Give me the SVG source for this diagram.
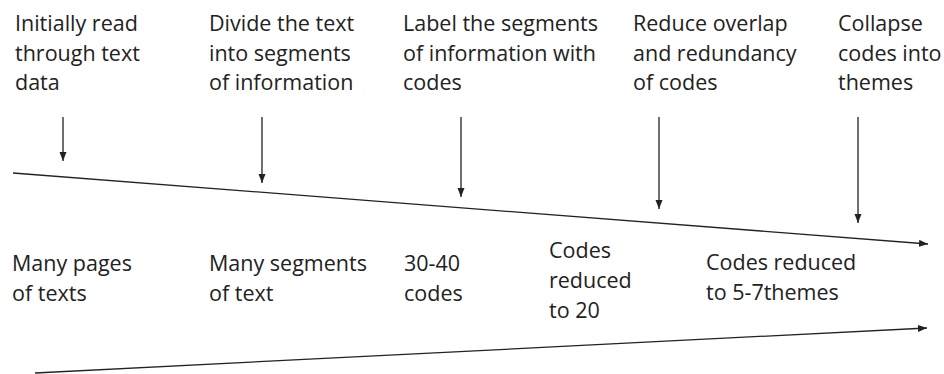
<svg xmlns="http://www.w3.org/2000/svg" width="944" height="374" viewBox="0 0 944 374">
<style>
text{font-family:"Open Sans","Noto Sans","Liberation Sans",sans-serif;font-size:21.5px;fill:#222}
.ln{stroke:#222;stroke-width:1.3;fill:none}
</style>
<defs>
<marker id="ah" markerUnits="userSpaceOnUse" markerWidth="10" markerHeight="8" refX="9" refY="3.5" orient="auto">
<path d="M0,0 L9,3.5 L0,7 z" fill="#222"/>
</marker>
</defs>
<rect width="944" height="374" fill="#fff"/>
<g id="step1"><text x="15" y="31">Initially read</text><text x="15" y="61">through text</text><text x="15" y="90">data</text></g>
<g id="step2"><text x="209" y="31">Divide the text</text><text x="209" y="61">into segments</text><text x="209" y="90">of information</text></g>
<g id="step3"><text x="403" y="31">Label the segments</text><text x="403" y="61">of information with</text><text x="403" y="90">codes</text></g>
<g id="step4"><text x="633" y="31">Reduce overlap</text><text x="633" y="61">and redundancy</text><text x="633" y="90">of codes</text></g>
<g id="step5"><text x="838" y="31">Collapse</text><text x="838" y="61">codes into</text><text x="838" y="90">themes</text></g>
<g id="res1"><text x="12" y="271">Many pages</text><text x="12" y="301">of texts</text></g>
<g id="res2"><text x="209" y="271">Many segments</text><text x="209" y="301">of text</text></g>
<g id="res3"><text x="404" y="271">30-40</text><text x="404" y="301">codes</text></g>
<g id="res4"><text x="549" y="258">Codes</text><text x="549" y="288">reduced</text><text x="549" y="318">to 20</text></g>
<g id="res5"><text x="706" y="270">Codes reduced</text><text x="706" y="300">to 5-7themes</text></g>
<g id="connectors">
<line class="ln" x1="63" y1="117" x2="63" y2="161" marker-end="url(#ah)"/>
<line class="ln" x1="262" y1="117" x2="262" y2="183" marker-end="url(#ah)"/>
<line class="ln" x1="461" y1="117" x2="461" y2="197" marker-end="url(#ah)"/>
<line class="ln" x1="659" y1="117" x2="659" y2="209" marker-end="url(#ah)"/>
<line class="ln" x1="858" y1="117" x2="858" y2="223" marker-end="url(#ah)"/>
<line class="ln" x1="13" y1="173" x2="928" y2="244" marker-end="url(#ah)"/>
<line class="ln" x1="35" y1="373" x2="927" y2="328" marker-end="url(#ah)"/>
</g>
</svg>
